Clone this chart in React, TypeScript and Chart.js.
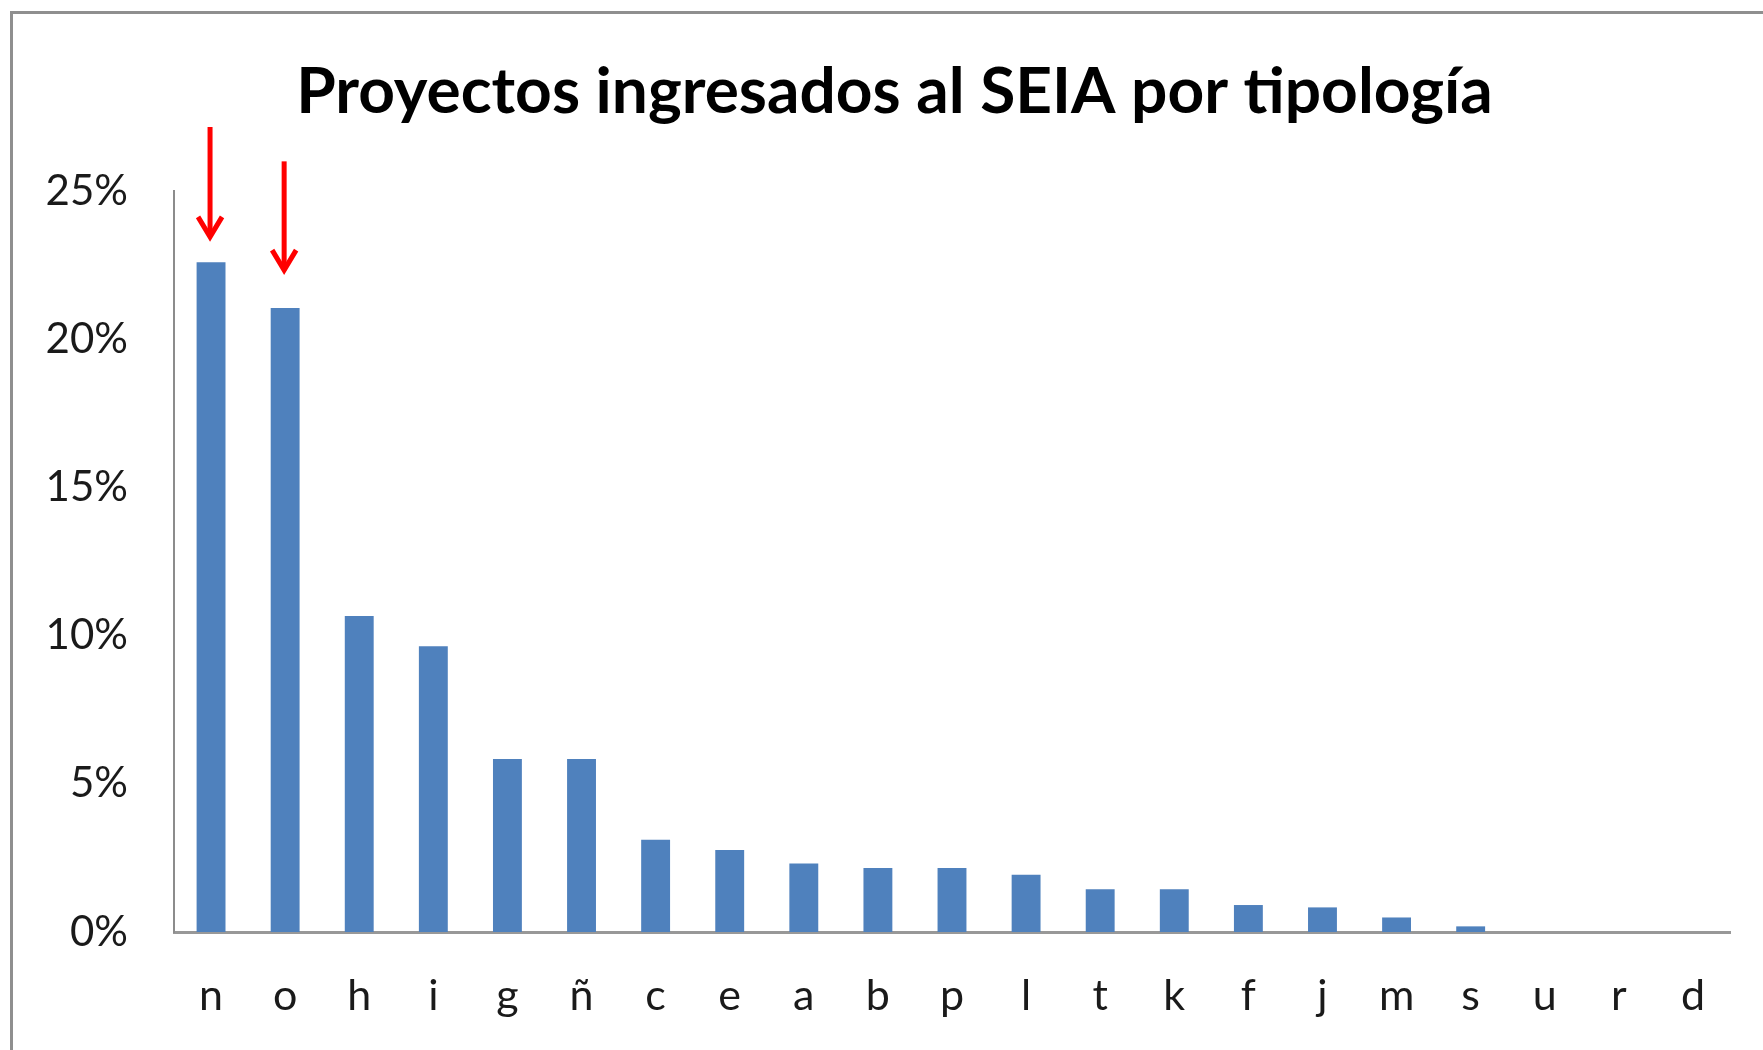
import React, { useEffect, useRef } from "react";
import { Chart, registerables } from "chart.js";

Chart.register(...registerables);

const TITLE = "Proyectos ingresados al SEIA por tipología";
const categories = ["n", "o", "h", "i", "g", "ñ", "c", "e", "a", "b", "p", "l", "t", "k", "f", "j", "m", "s", "u", "r", "d"];
const values = [22.6, 21.05, 10.66, 9.64, 5.84, 5.84, 3.11, 2.77, 2.31, 2.16, 2.16, 1.93, 1.44, 1.44, 0.91, 0.83, 0.49, 0.19, 0, 0, 0];
const yMin = 0;
const yMax = 25;
const yStep = 5;
// annotation arrows (category, start value, tip value)
const arrowCategories = ["n", "o"];
const arrowStartValues = [27.16, 26.0];
const arrowTipValues = [23.35, 22.23];

const FONT = "Lato, 'Open Sans', sans-serif";

const titlePlugin = {
  id: "customTitle",
  afterDraw(chart: any) {
    const ctx = chart.ctx;
    ctx.save();
    ctx.fillStyle = "#000";
    ctx.font = `bold 64px ${FONT}`;
    ctx.textAlign = "center";
    ctx.textBaseline = "middle";
    ctx.fillText(TITLE, chart.width / 2 + 13, 92);
    ctx.restore();
  },
};

const arrowPlugin = {
  id: "arrows",
  afterDatasetsDraw(chart: any) {
    const ctx = chart.ctx;
    const xs = chart.scales.x;
    const ys = chart.scales.y;
    ctx.save();
    ctx.strokeStyle = "#ff0000";
    ctx.lineWidth = 5;
    ctx.lineCap = "butt";
    ctx.lineJoin = "miter";
    arrowCategories.forEach((cat, i) => {
      const idx = categories.indexOf(cat);
      const x = xs.getPixelForValue(idx) - 1;
      const y0 = ys.getPixelForValue(arrowStartValues[i]);
      const y1 = ys.getPixelForValue(arrowTipValues[i]);
      ctx.beginPath();
      ctx.moveTo(x, y0);
      ctx.lineTo(x, y1 - 3);
      ctx.stroke();
      ctx.beginPath();
      ctx.moveTo(x - 12, y1 - 23);
      ctx.lineTo(x, y1 - 3);
      ctx.lineTo(x + 12, y1 - 23);
      ctx.stroke();
    });
    ctx.restore();
  },
};

export default function App() {
  const ref = useRef<HTMLCanvasElement | null>(null);
  useEffect(() => {
    if (!ref.current) return;
    const chart = new Chart(ref.current, {
      type: "bar",
      data: {
        labels: categories,
        datasets: [
          {
            data: values,
            backgroundColor: "#4F81BD",
            borderWidth: 0,
            barPercentage: 0.39,
            categoryPercentage: 1,
          },
        ],
      },
      options: {
        responsive: false,
        animation: false,
        layout: { padding: { left: 0, right: 33, top: 191, bottom: 0 } },
        plugins: {
          legend: { display: false },
          tooltip: { enabled: false },
          title: { display: false },
        },
        scales: {
          x: {
            grid: { display: false, drawTicks: false },
            border: { display: true, color: "#989898", width: 3 },
            ticks: { color: "#1a1a1a", font: { family: FONT, size: 43 }, padding: 38 },
            afterFit(scale: any) {
              scale.height = 118;
            },
          },
          y: {
            min: yMin,
            max: yMax,
            grid: { display: false, drawTicks: false },
            border: { display: true, color: "#8c8c8c", width: 2 },
            ticks: {
              stepSize: yStep,
              color: "#1a1a1a",
              font: { family: FONT, size: 42 },
              padding: 46,
              callback: (v: any) => v + "%",
            },
            afterFit(scale: any) {
              scale.width = 174;
            },
          },
        },
      },
      plugins: [arrowPlugin, titlePlugin],
    });
    return () => chart.destroy();
  }, []);
  return (
    <div style={{ position: "absolute", left: 0, top: 0, width: 1763, height: 1050, background: "#fff", overflow: "hidden" }}>
      <div
        style={{
          position: "absolute",
          left: 10,
          top: 11,
          width: 1800,
          height: 1100,
          borderLeft: "3px solid #8f8f8f",
          borderTop: "3px solid #8f8f8f",
        }}
      />
      <canvas ref={ref} width={1763} height={1050} style={{ position: "absolute", left: 0, top: 0, width: 1763, height: 1050 }} />
    </div>
  );
}
